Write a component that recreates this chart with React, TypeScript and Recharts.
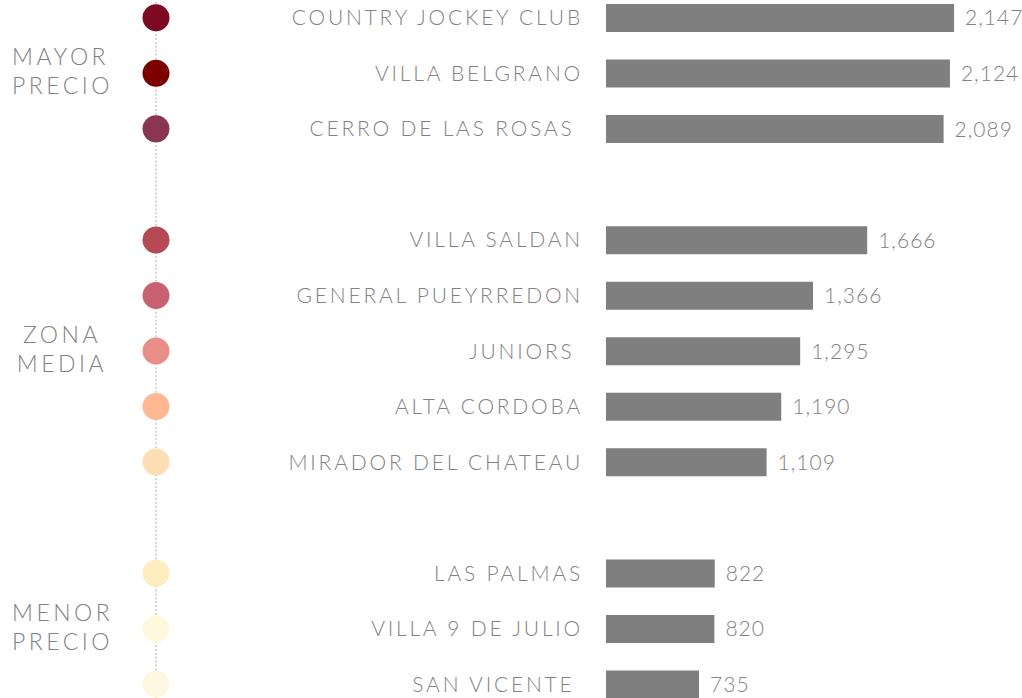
import React from 'react';
import { BarChart, Bar, XAxis, YAxis, LabelList } from 'recharts';

// ---- data ----
const mayorPrecioBarrios = ['COUNTRY JOCKEY CLUB', 'VILLA BELGRANO', 'CERRO DE LAS ROSAS '];
const mayorPrecioValores = [2147, 2124, 2089];

const zonaMediaBarrios = ['VILLA SALDAN', 'GENERAL PUEYRREDON', 'JUNIORS ', 'ALTA CORDOBA', 'MIRADOR DEL CHATEAU'];
const zonaMediaValores = [1666, 1366, 1295, 1190, 1109];

const menorPrecioBarrios = ['LAS PALMAS', 'VILLA 9 DE JULIO', 'SAN VICENTE '];
const menorPrecioValores = [822, 820, 735];

const groupTitles = [
  ['MAYOR', 'PRECIO'],
  ['ZONA', 'MEDIA'],
  ['MENOR', 'PRECIO'],
];

const dotColors = [
  '#7B0A22', '#7D0000', '#8A3652',
  '#B54A55', '#C86272', '#EA8F87', '#FFB892', '#FFDDB2',
  '#FFEDBF', '#FFF8DD', '#FFF8E0',
];

// ---- build rows ----
type Row = {
  key: string;
  name: string;
  value: number | null;
  color: string | null;
  title: string[] | null;
  group: number;
};

const groups = [
  { names: mayorPrecioBarrios, values: mayorPrecioValores },
  { names: zonaMediaBarrios, values: zonaMediaValores },
  { names: menorPrecioBarrios, values: menorPrecioValores },
];

const rows: Row[] = [];
let colorIdx = 0;
groups.forEach((g, gi) => {
  if (gi > 0) {
    rows.push({ key: `gap-${gi}`, name: '', value: null, color: null, title: null, group: gi });
  }
  const mid = Math.floor(g.names.length / 2);
  g.names.forEach((n, i) => {
    rows.push({
      key: `r-${gi}-${i}`,
      name: n,
      value: g.values[i],
      color: dotColors[colorIdx++],
      title: i === mid ? groupTitles[gi] : null,
      group: gi,
    });
  });
});

const rowByKey: Record<string, Row> = {};
rows.forEach((r) => (rowByKey[r.key] = r));

const FONT = 'Lato, "Open Sans", sans-serif';
const GRAY = '#828282';
const CHART_H = 722;
const BAND = CHART_H / rows.length;

const Tick = (props: any) => {
  const { y, payload } = props;
  const row = rowByKey[payload.value];
  if (!row) return null;
  const tx = row.group === 1 ? 60 : 12;
  return (
    <g>
      <line
        x1={156}
        x2={156}
        y1={y - BAND / 2}
        y2={y + BAND / 2}
        stroke="#c8c8c8"
        strokeWidth={1.5}
        strokeDasharray="2 2"
      />
      {row.color && <circle cx={156} cy={y} r={13.5} fill={row.color} />}
      {row.name && (
        <text
          x={583}
          y={y}
          dy={7.5}
          textAnchor="end"
          fill={GRAY}
          fontSize={21}
          fontFamily={FONT}
          fontWeight={300}
          style={{ whiteSpace: 'pre', letterSpacing: '2.8px' }}
        >
          {row.name}
        </text>
      )}
      {row.title && (
        <text
          x={tx}
          y={y}
          textAnchor={row.group === 1 ? 'middle' : 'start'}
          fill={GRAY}
          fontSize={23}
          fontFamily={FONT}
          fontWeight={300}
          style={{ letterSpacing: '3.5px' }}
        >
          <tspan x={row.group === 1 ? tx + 2 : tx} dy={-8}>
            {row.title[0]}
          </tspan>
          <tspan x={row.group === 1 ? tx + 2 : tx} dy={29}>
            {row.title[1]}
          </tspan>
        </text>
      )}
    </g>
  );
};

export default function App() {
  return (
    <div
      style={{
        position: 'fixed',
        left: 0,
        top: 0,
        width: 1022,
        height: 698,
        overflow: 'hidden',
        background: '#ffffff',
      }}
    >
      <div style={{ position: 'absolute', left: 0, top: -10 }}>
        <BarChart
          width={1022}
          height={CHART_H}
          data={rows}
          layout="vertical"
          margin={{ top: 0, right: 0, bottom: 0, left: 0 }}
        >
          <XAxis type="number" domain={[220, 2523]} hide />
          <YAxis
            type="category"
            dataKey="key"
            width={606}
            axisLine={false}
            tickLine={false}
            interval={0}
            tick={<Tick />}
          />
          <Bar dataKey="value" fill="#7f7f7f" barSize={28} isAnimationActive={false}>
            <LabelList
              dataKey="value"
              position="right"
              offset={11}
              fill={GRAY}
              fontSize={21}
              fontFamily={FONT}
              fontWeight={300}
              style={{ letterSpacing: '1px' }}
              formatter={(v: any) => (v == null ? '' : Number(v).toLocaleString('en-US'))}
            />
          </Bar>
        </BarChart>
      </div>
    </div>
  );
}
